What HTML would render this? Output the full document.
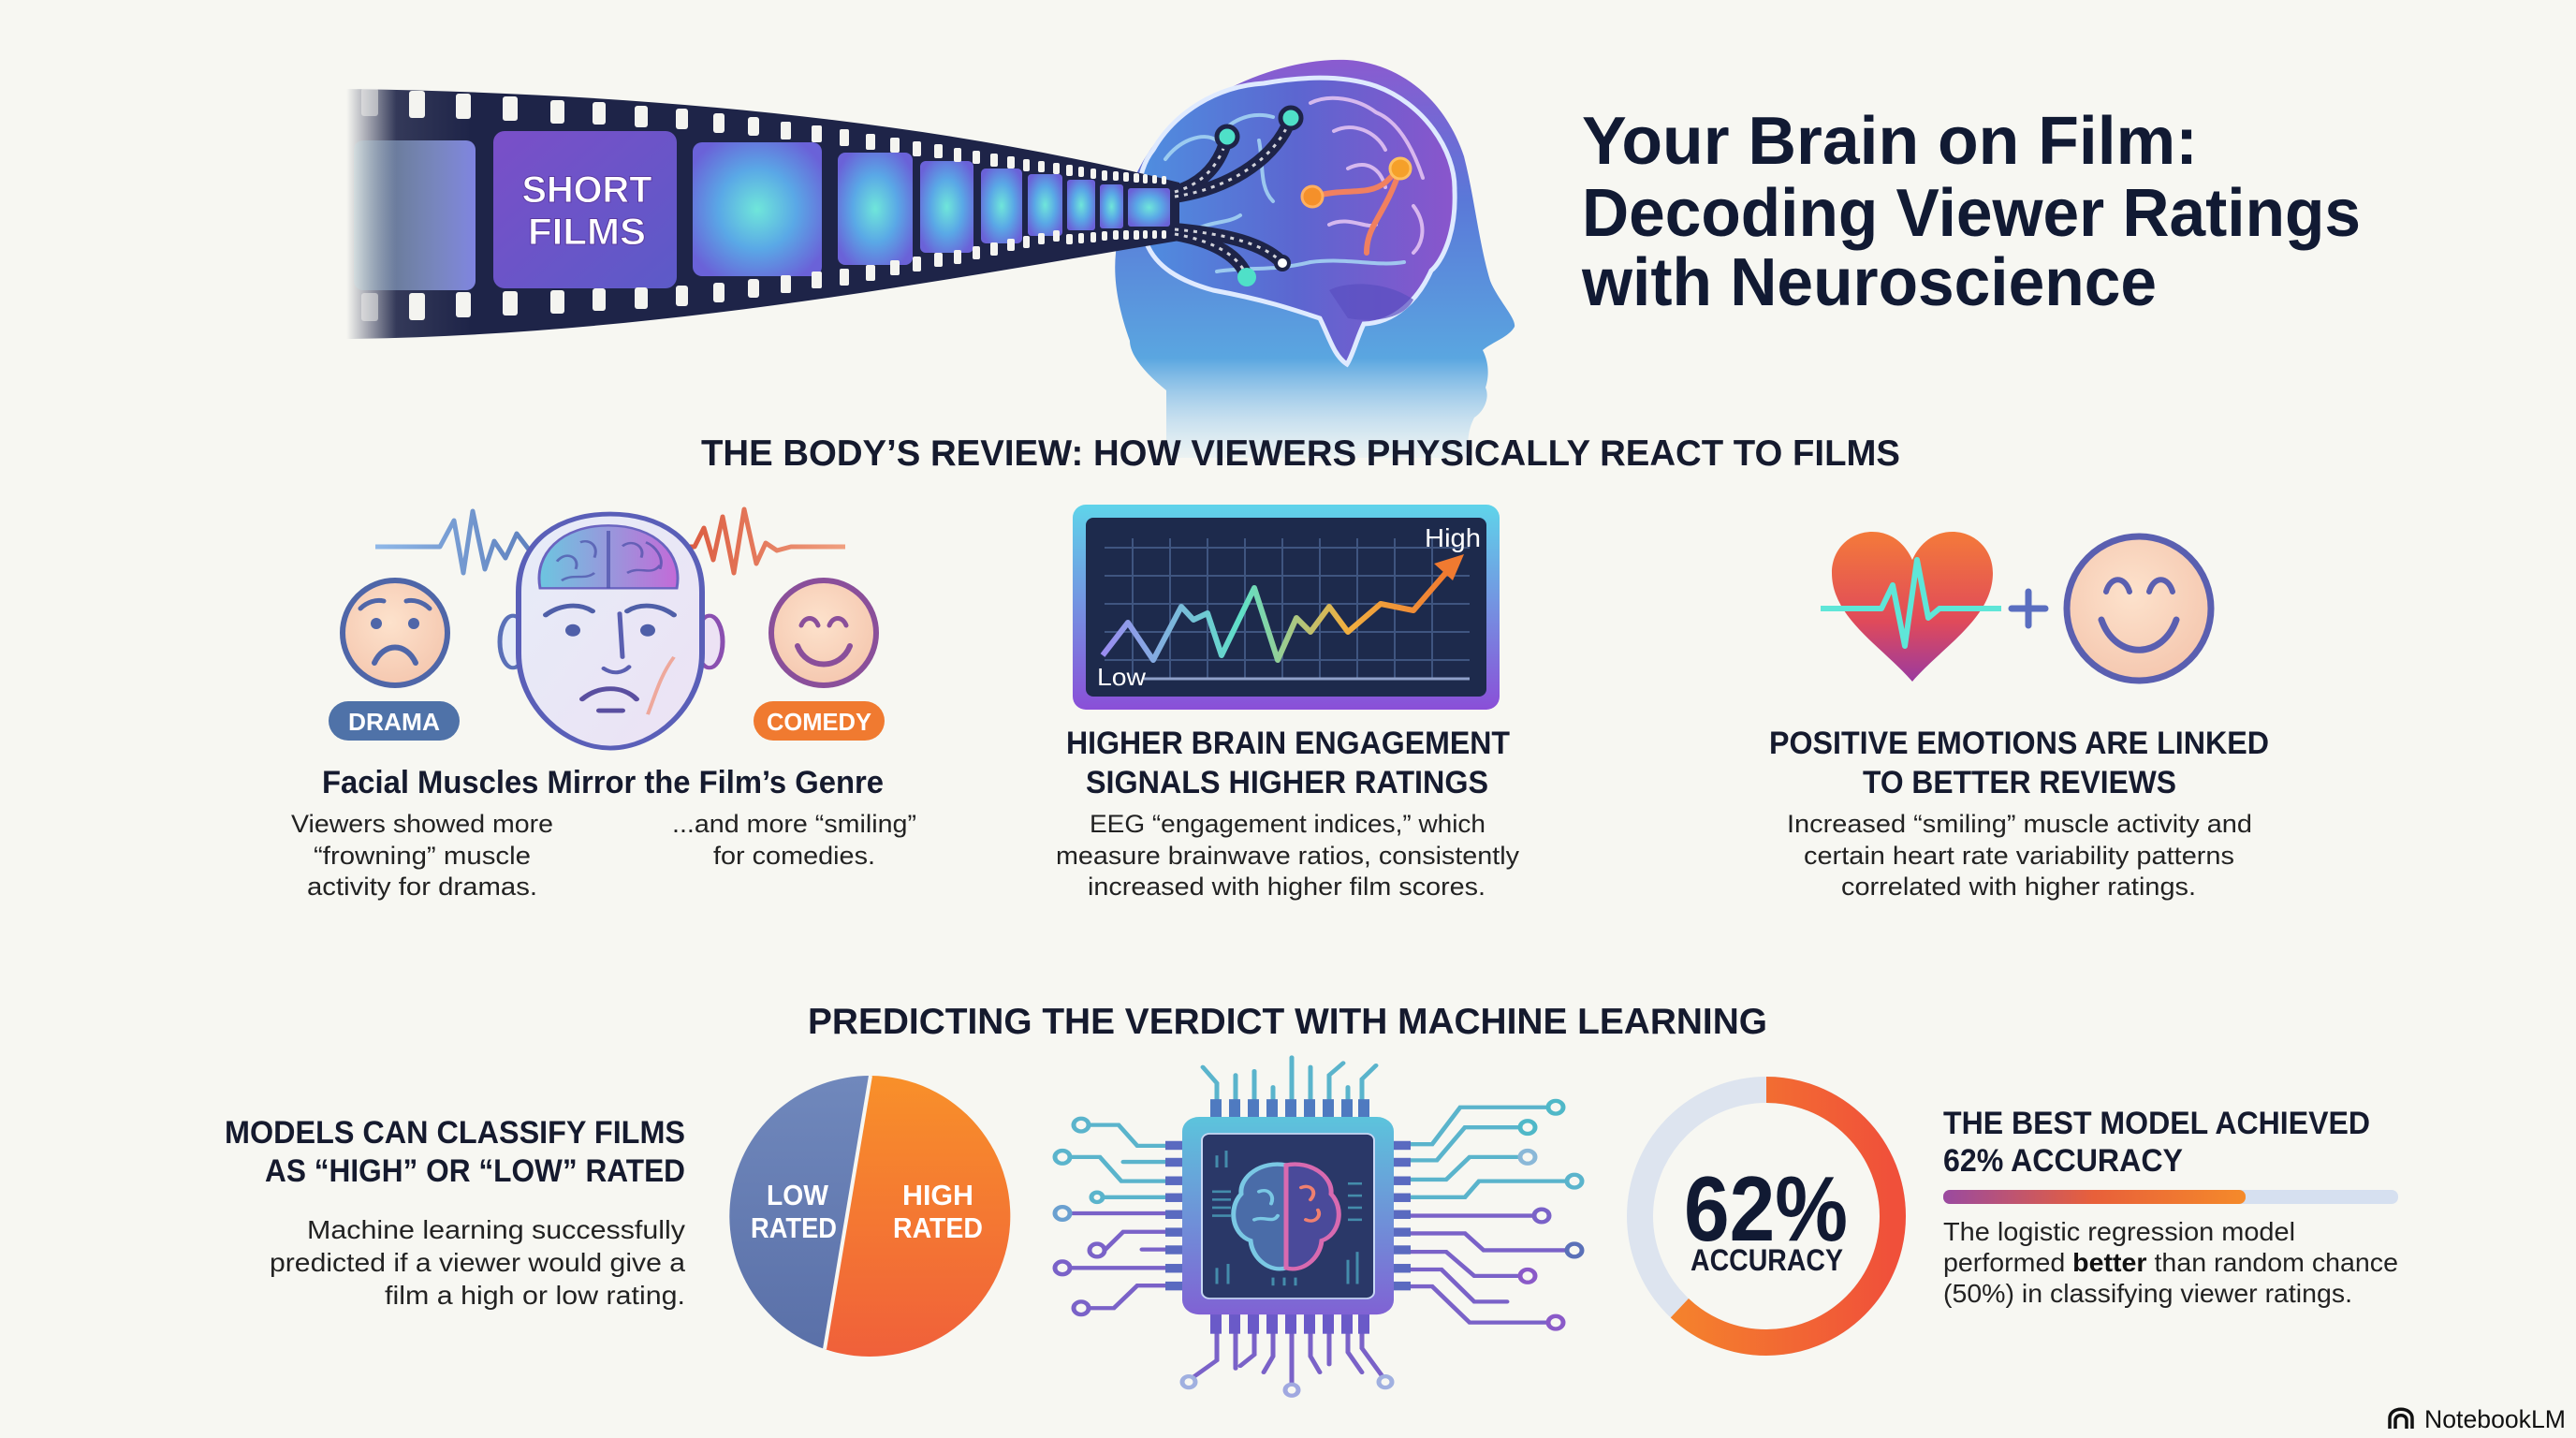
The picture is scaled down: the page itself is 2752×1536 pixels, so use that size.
<!DOCTYPE html>
<html><head><meta charset="utf-8">
<style>
html,body{margin:0;padding:0;background:#f7f7f2;}
svg{display:block;}
text{font-family:"Liberation Sans",sans-serif;}
</style></head>
<body>
<svg width="2752" height="1536" viewBox="0 0 2752 1536" xmlns="http://www.w3.org/2000/svg">
<defs>
  <linearGradient id="headG" x1="0" y1="0" x2="0" y2="1">
    <stop offset="0" stop-color="#8a5bd0"/>
    <stop offset="0.35" stop-color="#5a78d8"/>
    <stop offset="0.75" stop-color="#5aa6e0"/>
    <stop offset="1" stop-color="#cfe6f4" stop-opacity="0.3"/>
  </linearGradient>
  <linearGradient id="brainG" x1="0" y1="0" x2="1" y2="0">
    <stop offset="0" stop-color="#4f8fe0"/>
    <stop offset="0.5" stop-color="#5c66d0"/>
    <stop offset="1" stop-color="#8a55cc"/>
  </linearGradient>
  <linearGradient id="stripFade" x1="0" y1="0" x2="1" y2="0">
    <stop offset="0" stop-color="#1e2448" stop-opacity="0"/>
    <stop offset="0.06" stop-color="#1e2448" stop-opacity="0.9"/>
    <stop offset="0.15" stop-color="#1e2448"/>
    <stop offset="1" stop-color="#1e2448"/>
  </linearGradient>
  <radialGradient id="frameG" cx="0.5" cy="0.5" r="0.6">
    <stop offset="0" stop-color="#6fe6da"/>
    <stop offset="0.5" stop-color="#5aa8e6"/>
    <stop offset="1" stop-color="#6a62d8"/>
  </radialGradient>
  <linearGradient id="frame2" x1="0" y1="0" x2="1" y2="1">
    <stop offset="0" stop-color="#7a4fc8"/>
    <stop offset="1" stop-color="#5c5ac8"/>
  </linearGradient>
  <linearGradient id="frame1" x1="0" y1="0" x2="1" y2="0">
    <stop offset="0" stop-color="#bfe8ee" stop-opacity="0.2"/>
    <stop offset="1" stop-color="#7f84e0"/>
  </linearGradient>
  <linearGradient id="monG" x1="0" y1="0" x2="0" y2="1">
    <stop offset="0" stop-color="#5fd4ea"/>
    <stop offset="1" stop-color="#8a4fd8"/>
  </linearGradient>
  <linearGradient id="lineG" x1="0" y1="0" x2="1" y2="0">
    <stop offset="0" stop-color="#9a8cf0"/>
    <stop offset="0.4" stop-color="#5fe0c8"/>
    <stop offset="0.7" stop-color="#f0b040"/>
    <stop offset="1" stop-color="#f07a30"/>
  </linearGradient>
  <linearGradient id="heartG" x1="0" y1="0" x2="0" y2="1">
    <stop offset="0" stop-color="#f47a3a"/>
    <stop offset="0.6" stop-color="#e04a5a"/>
    <stop offset="1" stop-color="#9a3aa0"/>
  </linearGradient>
  <radialGradient id="faceG" cx="0.45" cy="0.4" r="0.6">
    <stop offset="0" stop-color="#fde2cc"/>
    <stop offset="1" stop-color="#f5c8b0"/>
  </radialGradient>
  <linearGradient id="headFace" x1="0" y1="0" x2="1" y2="1">
    <stop offset="0" stop-color="#e6ecf8"/>
    <stop offset="1" stop-color="#ece2f4"/>
  </linearGradient>
  <linearGradient id="miniBrain" x1="0" y1="0" x2="1" y2="0">
    <stop offset="0" stop-color="#6cc6e0"/>
    <stop offset="1" stop-color="#c36ad8"/>
  </linearGradient>
  <linearGradient id="waveL" x1="0" y1="0" x2="1" y2="0">
    <stop offset="0" stop-color="#8fb8e8"/>
    <stop offset="1" stop-color="#4f6fb0"/>
  </linearGradient>
  <linearGradient id="waveR" x1="0" y1="0" x2="1" y2="0">
    <stop offset="0" stop-color="#d9553a"/>
    <stop offset="1" stop-color="#f0a080"/>
  </linearGradient>
  <linearGradient id="chipG" x1="0" y1="0" x2="0" y2="1">
    <stop offset="0" stop-color="#5cc4dc"/>
    <stop offset="1" stop-color="#8062d4"/>
  </linearGradient>
  <linearGradient id="ringG" x1="0" y1="0" x2="0" y2="1">
    <stop offset="0" stop-color="#f58a2a"/>
    <stop offset="1" stop-color="#f0503a"/>
  </linearGradient>
  <linearGradient id="barG" x1="0" y1="0" x2="1" y2="0">
    <stop offset="0" stop-color="#9a4aa0"/>
    <stop offset="0.5" stop-color="#e8603a"/>
    <stop offset="1" stop-color="#f58a2a"/>
  </linearGradient>
  <linearGradient id="pieL" x1="0" y1="0" x2="0" y2="1">
    <stop offset="0" stop-color="#7088bc"/>
    <stop offset="1" stop-color="#5a70a8"/>
  </linearGradient>
  <linearGradient id="pieR" x1="0" y1="0" x2="0" y2="1">
    <stop offset="0" stop-color="#f8902a"/>
    <stop offset="1" stop-color="#f0603a"/>
  </linearGradient>
</defs>

<rect width="2752" height="1536" fill="#f7f7f2"/>

<!-- HEAD -->
<path d="M1246,489 L1246,417 C1225,400 1207,380 1207,364 C1195,330 1189,300 1192,270 C1198,200 1230,140 1279,114 C1330,80 1390,62 1439,64 C1500,68 1545,110 1564,167 C1575,210 1580,260 1592,300 C1600,320 1620,340 1618,349 C1612,360 1595,365 1584,374 C1592,390 1590,405 1587,414 C1592,425 1585,440 1575,446 C1568,460 1568,470 1568,489 Z" fill="url(#headG)"/>
<!-- BRAIN -->
<path d="M1225,260 C1212,230 1212,185 1232,160 C1255,120 1300,92 1350,89 C1400,80 1440,82 1470,92 C1520,110 1555,160 1554,203 C1556,250 1540,280 1529,289 C1515,320 1490,345 1457,346 C1450,360 1445,380 1439,389 C1425,380 1420,360 1410,340 C1380,330 1350,320 1296,310 C1260,300 1235,285 1225,260 Z" fill="url(#brainG)" stroke="#dfeaff" stroke-width="5"/>
<g fill="none" stroke="#a8d8f4" stroke-width="4" stroke-linecap="round" opacity="0.85">
  <path d="M1245,170 C1260,150 1285,140 1300,150 C1310,130 1335,118 1360,125"/>
  <path d="M1240,220 C1255,200 1275,195 1290,205"/>
  <path d="M1270,250 C1290,235 1310,240 1325,230"/>
  <path d="M1345,150 C1350,175 1345,200 1360,215"/>
  <path d="M1300,290 C1330,285 1360,290 1400,280 C1440,275 1470,285 1500,280"/>
</g>
<g fill="none" stroke="#e8c8f4" stroke-width="4" stroke-linecap="round" opacity="0.85">
  <path d="M1400,110 C1420,100 1450,105 1470,120 C1495,130 1510,160 1520,190"/>
  <path d="M1425,140 C1445,130 1470,140 1480,160"/>
  <path d="M1440,180 C1460,170 1475,180 1480,200"/>
  <path d="M1510,220 C1525,240 1520,260 1510,270"/>
  <path d="M1420,240 C1440,230 1460,245 1470,240"/>
</g>
<path d="M1420,310 C1440,300 1480,300 1510,320 C1500,340 1470,345 1440,340 Z" fill="#5a4fc0" opacity="0.7"/>
<path d="M1402,210 C1440,200 1460,210 1480,195 C1490,185 1496,180 1496,180 M1496,180 C1480,230 1460,240 1460,270" fill="none" stroke="#f08060" stroke-width="6" stroke-linecap="round"/>
<circle cx="1402" cy="210" r="11" fill="#f5902a" stroke="#ffb060" stroke-width="3"/>
<circle cx="1496" cy="180" r="11" fill="#f5a02a" stroke="#ffc060" stroke-width="3"/>

<!-- FILM STRIP -->
<path d="M370,95 C700,100 1000,130 1260,195 L1260,257 C1000,300 700,358 370,362 Z" fill="url(#stripFade)"/>
<g fill="none" stroke="#1e2448" stroke-width="14" stroke-linecap="round">
  <path d="M1255,205 C1290,195 1305,170 1311,146"/>
  <path d="M1255,210 C1320,200 1365,165 1379,126"/>
  <path d="M1255,245 C1310,250 1350,260 1370,281"/>
  <path d="M1255,250 C1300,258 1325,275 1332,296"/>
</g>
<g fill="none" stroke="#ffffff" stroke-width="3" stroke-dasharray="4 6" opacity="0.8">
  <path d="M1255,205 C1290,195 1305,170 1311,146"/>
  <path d="M1255,210 C1320,200 1365,165 1379,126"/>
  <path d="M1255,245 C1310,250 1350,260 1370,281"/>
  <path d="M1255,250 C1300,258 1325,275 1332,296"/>
</g>
<circle cx="1311" cy="146" r="11" fill="#4fe0c8" stroke="#1e2448" stroke-width="5"/>
<circle cx="1379" cy="126" r="11" fill="#4fe0c8" stroke="#1e2448" stroke-width="5"/>
<circle cx="1370" cy="281" r="7" fill="#fff" stroke="#1e2448" stroke-width="4"/>
<circle cx="1332" cy="296" r="10" fill="#4fe0c8"/>
<rect x="378" y="150" width="130" height="160" rx="10" fill="url(#frame1)"/>
<rect x="527" y="140" width="196" height="168" rx="12" fill="url(#frame2)"/>
<rect x="740" y="152" width="138" height="143" rx="10" fill="url(#frameG)"/>
<rect x="895" y="163" width="80" height="120" rx="8" fill="url(#frameG)"/>
<rect x="983" y="172" width="57" height="98" rx="6" fill="url(#frameG)"/>
<rect x="1048" y="180" width="44" height="80" rx="5" fill="url(#frameG)"/>
<rect x="1098" y="186" width="37" height="66" rx="4" fill="url(#frameG)"/>
<rect x="1140" y="192" width="30" height="54" rx="3" fill="url(#frameG)"/>
<rect x="1175" y="197" width="25" height="47" rx="3" fill="url(#frameG)"/>
<rect x="1205" y="201" width="45" height="41" rx="3" fill="url(#frameG)"/>
<text x="627" y="216" text-anchor="middle" font-size="40" font-weight="bold" fill="#fff" stroke="#5a3aa0" stroke-width="1" textLength="139" lengthAdjust="spacingAndGlyphs">SHORT</text>
<text x="627" y="261" text-anchor="middle" font-size="40" font-weight="bold" fill="#fff" stroke="#5a3aa0" stroke-width="1" textLength="126" lengthAdjust="spacingAndGlyphs">FILMS</text>
<g fill="#f4f4f0">
<rect x="386" y="94" width="18" height="30" rx="3" opacity="0.5"/>
<rect x="437" y="97" width="17" height="29" rx="3"/>
<rect x="487" y="100" width="16" height="27" rx="3"/>
<rect x="537" y="103" width="16" height="26" rx="3"/>
<rect x="588" y="107" width="15" height="25" rx="3"/>
<rect x="633" y="109" width="14" height="24" rx="3"/>
<rect x="678" y="113" width="14" height="23" rx="3"/>
<rect x="722" y="116" width="13" height="22" rx="3"/>
<rect x="762" y="121" width="12" height="21" rx="3"/>
<rect x="799" y="125" width="12" height="20" rx="3"/>
<rect x="834" y="130" width="11" height="19" rx="2"/>
<rect x="867" y="134" width="11" height="18" rx="2"/>
<rect x="897" y="138" width="10" height="18" rx="2"/>
<rect x="925" y="143" width="10" height="17" rx="2"/>
<rect x="951" y="147" width="10" height="16" rx="2"/>
<rect x="975" y="151" width="9" height="16" rx="2"/>
<rect x="998" y="154" width="9" height="15" rx="2"/>
<rect x="1019" y="158" width="8" height="15" rx="2"/>
<rect x="1039" y="161" width="8" height="14" rx="2"/>
<rect x="1058" y="164" width="8" height="14" rx="2"/>
<rect x="1076" y="167" width="8" height="13" rx="2"/>
<rect x="1093" y="170" width="7" height="13" rx="2"/>
<rect x="1109" y="172" width="7" height="12" rx="2"/>
<rect x="1125" y="174" width="7" height="12" rx="2"/>
<rect x="1139" y="176" width="7" height="12" rx="2"/>
<rect x="1152" y="178" width="6" height="11" rx="2"/>
<rect x="1165" y="180" width="6" height="11" rx="2"/>
<rect x="1177" y="182" width="6" height="11" rx="2"/>
<rect x="1189" y="183" width="6" height="10" rx="2"/>
<rect x="1200" y="184" width="6" height="10" rx="2"/>
<rect x="1211" y="185" width="6" height="10" rx="2"/>
<rect x="1221" y="186" width="5" height="10" rx="2"/>
<rect x="1231" y="187" width="5" height="9" rx="2"/>
<rect x="1241" y="188" width="5" height="9" rx="2"/>
<rect x="386" y="313" width="18" height="30" rx="3" opacity="0.5"/>
<rect x="437" y="313" width="17" height="29" rx="3"/>
<rect x="487" y="312" width="16" height="27" rx="3"/>
<rect x="537" y="311" width="16" height="26" rx="3"/>
<rect x="588" y="310" width="15" height="25" rx="3"/>
<rect x="633" y="308" width="14" height="24" rx="3"/>
<rect x="678" y="307" width="14" height="23" rx="3"/>
<rect x="722" y="305" width="13" height="22" rx="3"/>
<rect x="762" y="302" width="12" height="21" rx="3"/>
<rect x="799" y="298" width="12" height="20" rx="3"/>
<rect x="834" y="294" width="11" height="19" rx="2"/>
<rect x="867" y="290" width="11" height="18" rx="2"/>
<rect x="897" y="287" width="10" height="18" rx="2"/>
<rect x="925" y="283" width="10" height="17" rx="2"/>
<rect x="951" y="278" width="10" height="16" rx="2"/>
<rect x="975" y="274" width="9" height="16" rx="2"/>
<rect x="998" y="270" width="9" height="15" rx="2"/>
<rect x="1019" y="267" width="8" height="15" rx="2"/>
<rect x="1039" y="263" width="8" height="14" rx="2"/>
<rect x="1058" y="259" width="8" height="14" rx="2"/>
<rect x="1076" y="255" width="8" height="13" rx="2"/>
<rect x="1093" y="252" width="7" height="13" rx="2"/>
<rect x="1109" y="249" width="7" height="12" rx="2"/>
<rect x="1125" y="246" width="7" height="12" rx="2"/>
<rect x="1139" y="250" width="7" height="11" rx="2"/>
<rect x="1152" y="249" width="6" height="11" rx="2"/>
<rect x="1165" y="248" width="6" height="11" rx="2"/>
<rect x="1177" y="247" width="6" height="10" rx="2"/>
<rect x="1189" y="246" width="6" height="10" rx="2"/>
<rect x="1200" y="246" width="6" height="10" rx="2"/>
<rect x="1211" y="246" width="6" height="10" rx="2"/>
<rect x="1221" y="246" width="5" height="9" rx="2"/>
<rect x="1231" y="246" width="5" height="9" rx="2"/>
<rect x="1241" y="246" width="5" height="9" rx="2"/>
</g>

<!-- TITLE -->
<g fill="#111a33" font-weight="bold" font-size="72">
<text x="1690" y="175" textLength="658" lengthAdjust="spacingAndGlyphs">Your Brain on Film:</text>
<text x="1690" y="252" textLength="832" lengthAdjust="spacingAndGlyphs">Decoding Viewer Ratings</text>
<text x="1690" y="326" textLength="614" lengthAdjust="spacingAndGlyphs">with Neuroscience</text>
</g>

<!-- SECTION 1 HEADER -->
<text x="749" y="497" font-size="39" font-weight="bold" fill="#151a2e" textLength="1281" lengthAdjust="spacingAndGlyphs">THE BODY’S REVIEW: HOW VIEWERS PHYSICALLY REACT TO FILMS</text>

<!-- LEFT ICON: waveforms -->
<path d="M401,584 L470,584 L485,556 L495,612 L505,546 L518,608 L528,578 L540,596 L552,570 L565,587 L580,584 L620,584" fill="none" stroke="url(#waveL)" stroke-width="5" stroke-linejoin="round"/>
<path d="M720,584 L742,584 L752,564 L762,598 L772,552 L784,612 L795,544 L808,602 L818,580 L830,588 L845,584 L903,584" fill="none" stroke="url(#waveR)" stroke-width="5" stroke-linejoin="round"/>
<!-- sad face -->
<g transform="translate(0,-22)">
<circle cx="422" cy="698" r="56" fill="url(#faceG)" stroke="#4f66a8" stroke-width="6"/>
<circle cx="402" cy="688" r="6" fill="#4f66a8"/><circle cx="442" cy="688" r="6" fill="#4f66a8"/>
<path d="M385,672 C392,665 402,662 410,664 M434,664 C442,662 452,665 459,672" fill="none" stroke="#4f66a8" stroke-width="5" stroke-linecap="round"/>
<path d="M400,730 C410,708 434,708 444,730" fill="none" stroke="#4f66a8" stroke-width="6" stroke-linecap="round"/>
<circle cx="880" cy="698" r="56" fill="url(#faceG)" stroke="#8a4f9a" stroke-width="6"/>
<path d="M856,690 C860,680 870,680 874,690 M886,690 C890,680 900,680 904,690" fill="none" stroke="#8a4f9a" stroke-width="5" stroke-linecap="round"/>
<path d="M852,712 C862,738 898,738 908,712" fill="none" stroke="#8a4f9a" stroke-width="6" stroke-linecap="round"/>
</g>
<rect x="351" y="749" width="140" height="42" rx="21" fill="#4f72a8"/>
<text x="421" y="780" text-anchor="middle" font-size="26" font-weight="bold" fill="#fff" textLength="98" lengthAdjust="spacingAndGlyphs">DRAMA</text>
<rect x="805" y="749" width="140" height="42" rx="21" fill="#f07a30"/>
<text x="875" y="780" text-anchor="middle" font-size="26" font-weight="bold" fill="#fff" textLength="112" lengthAdjust="spacingAndGlyphs">COMEDY</text>
<!-- center head (vertically compressed) -->
<g transform="matrix(1,0,0,0.817,0,109.5)">
<ellipse cx="548" cy="705" rx="14" ry="34" fill="#e6ecf8" stroke="#5a70b8" stroke-width="5"/>
<ellipse cx="758" cy="705" rx="14" ry="34" fill="#ece2f4" stroke="#8a4fb0" stroke-width="5"/>
<path d="M554,640 C554,570 600,538 652,538 C704,538 750,570 750,640 L750,720 C750,790 700,844 652,844 C604,844 554,790 554,720 Z" fill="url(#headFace)" stroke="#5a5fb8" stroke-width="6"/>
<path d="M577,635 C570,590 600,553 650,553 C700,553 730,590 723,635 Z" fill="url(#miniBrain)" stroke="#6a64c0" stroke-width="3"/>
<g fill="none" stroke="#4a4fa8" stroke-width="3" opacity="0.7">
<path d="M595,600 C605,585 620,595 615,610 M620,575 C630,570 640,580 635,595 M600,625 C612,615 625,625 635,615 M665,580 C675,570 690,580 685,595 M670,615 C685,605 695,620 705,605 M690,575 C700,580 710,595 705,610"/>
<path d="M650,560 L650,635" stroke-width="4"/>
</g>
<path d="M583,670 C600,655 620,655 633,665 M670,665 C683,655 703,655 720,670" fill="none" stroke="#4f5fa8" stroke-width="6" stroke-linecap="round"/>
<circle cx="612" cy="690" r="8" fill="#4f5fa8"/><circle cx="692" cy="690" r="8" fill="#4f5fa8"/>
<path d="M662,668 L665,725 M645,740 C655,748 665,746 672,738" fill="none" stroke="#5a5fb0" stroke-width="5" stroke-linecap="round"/>
<path d="M622,780 C640,762 665,762 680,780 M640,795 L665,795" fill="none" stroke="#5a4fa0" stroke-width="6" stroke-linecap="round"/>
<path d="M720,725 C705,750 700,775 692,800" fill="none" stroke="#f08060" stroke-width="4" opacity="0.6"/>
</g>

<text x="344" y="847" font-size="34" font-weight="bold" fill="#151a2e" textLength="600" lengthAdjust="spacingAndGlyphs">Facial Muscles Mirror the Film’s Genre</text>
<g font-size="27" fill="#222">
<text x="311" y="889" textLength="280" lengthAdjust="spacingAndGlyphs">Viewers showed more</text>
<text x="335" y="923" textLength="232" lengthAdjust="spacingAndGlyphs">“frowning” muscle</text>
<text x="328" y="956" textLength="246" lengthAdjust="spacingAndGlyphs">activity for dramas.</text>
<text x="718" y="889" textLength="261" lengthAdjust="spacingAndGlyphs">...and more “smiling”</text>
<text x="762" y="923" textLength="173" lengthAdjust="spacingAndGlyphs">for comedies.</text>
</g>

<!-- MONITOR -->
<rect x="1146" y="539" width="456" height="219" rx="14" fill="url(#monG)"/>
<rect x="1160" y="553" width="428" height="191" rx="8" fill="#1d2a4c"/>
<g stroke="#3f5580" stroke-width="2">
<line x1="1180" y1="585" x2="1570" y2="585"/><line x1="1180" y1="615" x2="1570" y2="615"/>
<line x1="1180" y1="645" x2="1570" y2="645"/><line x1="1180" y1="675" x2="1570" y2="675"/>
<line x1="1180" y1="705" x2="1570" y2="705"/>
<line x1="1210" y1="575" x2="1210" y2="725"/><line x1="1250" y1="575" x2="1250" y2="725"/>
<line x1="1290" y1="575" x2="1290" y2="725"/><line x1="1330" y1="575" x2="1330" y2="725"/>
<line x1="1370" y1="575" x2="1370" y2="725"/><line x1="1410" y1="575" x2="1410" y2="725"/>
<line x1="1450" y1="575" x2="1450" y2="725"/><line x1="1490" y1="575" x2="1490" y2="725"/>
<line x1="1530" y1="575" x2="1530" y2="725"/>
</g>
<line x1="1222" y1="725" x2="1570" y2="725" stroke="#8fa0c8" stroke-width="3"/>
<polyline points="1178,700 1205,665 1232,705 1262,648 1275,662 1290,655 1305,700 1340,628 1365,705 1385,660 1400,675 1420,648 1440,675 1475,645 1510,652 1548,608" fill="none" stroke="url(#lineG)" stroke-width="6" stroke-linejoin="round"/>
<polygon points="1564,592 1532,602 1552,620" fill="#f07a30"/>
<text x="1522" y="584" font-size="28" fill="#fff" textLength="60" lengthAdjust="spacingAndGlyphs">High</text>
<text x="1172" y="732" font-size="26" fill="#fff" textLength="52" lengthAdjust="spacingAndGlyphs">Low</text>

<g font-size="34" font-weight="bold" fill="#151a2e">
<text x="1139" y="805" textLength="474" lengthAdjust="spacingAndGlyphs">HIGHER BRAIN ENGAGEMENT</text>
<text x="1160" y="847" textLength="430" lengthAdjust="spacingAndGlyphs">SIGNALS HIGHER RATINGS</text>
</g>
<g font-size="27" fill="#222">
<text x="1164" y="889" textLength="423" lengthAdjust="spacingAndGlyphs">EEG “engagement indices,” which</text>
<text x="1128" y="923" textLength="495" lengthAdjust="spacingAndGlyphs">measure brainwave ratios, consistently</text>
<text x="1162" y="956" textLength="425" lengthAdjust="spacingAndGlyphs">increased with higher film scores.</text>
</g>

<!-- HEART + SMILE -->
<path d="M2043,728 C2010,690 1957,660 1957,612 C1957,585 1978,568 2000,568 C2020,568 2035,580 2043,598 C2051,580 2066,568 2086,568 C2108,568 2129,585 2129,612 C2129,660 2076,690 2043,728 Z" fill="url(#heartG)"/>
<polyline points="1945,650 2010,650 2022,625 2035,690 2048,598 2060,660 2072,650 2138,650" fill="none" stroke="#5fe6d8" stroke-width="6" stroke-linejoin="round"/>
<path d="M2167,632 L2167,668 M2149,650 L2185,650" stroke="#5a6ec0" stroke-width="7" stroke-linecap="round"/>
<circle cx="2285" cy="650" r="77" fill="url(#faceG)" stroke="#5a5fb0" stroke-width="7"/>
<path d="M2250,632 C2255,615 2270,615 2275,632 M2296,632 C2301,615 2316,615 2321,632" fill="none" stroke="#5a5fb0" stroke-width="6" stroke-linecap="round"/>
<path d="M2245,662 C2260,705 2310,705 2325,662" fill="none" stroke="#5a5fb0" stroke-width="7" stroke-linecap="round"/>

<g font-size="34" font-weight="bold" fill="#151a2e">
<text x="1890" y="805" textLength="534" lengthAdjust="spacingAndGlyphs">POSITIVE EMOTIONS ARE LINKED</text>
<text x="1990" y="847" textLength="335" lengthAdjust="spacingAndGlyphs">TO BETTER REVIEWS</text>
</g>
<g font-size="27" fill="#222">
<text x="1909" y="889" textLength="497" lengthAdjust="spacingAndGlyphs">Increased “smiling” muscle activity and</text>
<text x="1927" y="923" textLength="460" lengthAdjust="spacingAndGlyphs">certain heart rate variability patterns</text>
<text x="1967" y="956" textLength="379" lengthAdjust="spacingAndGlyphs">correlated with higher ratings.</text>
</g>

<!-- SECTION 2 HEADER -->
<text x="863" y="1104" font-size="39" font-weight="bold" fill="#151a2e" textLength="1025" lengthAdjust="spacingAndGlyphs">PREDICTING THE VERDICT WITH MACHINE LEARNING</text>

<g font-size="34" font-weight="bold" fill="#151a2e" text-anchor="end">
<text x="732" y="1221" textLength="492" lengthAdjust="spacingAndGlyphs">MODELS CAN CLASSIFY FILMS</text>
<text x="732" y="1262" textLength="449" lengthAdjust="spacingAndGlyphs">AS “HIGH” OR “LOW” RATED</text>
</g>
<g font-size="28" fill="#222" text-anchor="end">
<text x="732" y="1323" textLength="404" lengthAdjust="spacingAndGlyphs">Machine learning successfully</text>
<text x="732" y="1358" textLength="444" lengthAdjust="spacingAndGlyphs">predicted if a viewer would give a</text>
<text x="732" y="1393" textLength="321" lengthAdjust="spacingAndGlyphs">film a high or low rating.</text>
</g>

<!-- PIE -->
<path d="M930,1149 A150,150 0 0 0 881,1441 Z" fill="url(#pieL)"/>
<path d="M930,1149 A150,150 0 1 1 881,1441 Z" fill="url(#pieR)"/>
<line x1="930" y1="1149" x2="881" y2="1441" stroke="#f7f7f2" stroke-width="4"/>
<g font-size="31" font-weight="bold" fill="#fff" text-anchor="middle">
<text x="852" y="1287" textLength="66" lengthAdjust="spacingAndGlyphs">LOW</text>
<text x="848" y="1322" textLength="92" lengthAdjust="spacingAndGlyphs">RATED</text>
<text x="1002" y="1287" textLength="76" lengthAdjust="spacingAndGlyphs">HIGH</text>
<text x="1002" y="1322" textLength="96" lengthAdjust="spacingAndGlyphs">RATED</text>
</g>

<!-- CHIP (vertically compressed) -->
<g transform="matrix(1,0,0,0.858,0,161.7)">
<g fill="none" stroke-width="5" stroke-linecap="round">
<g stroke="#5ab4cc">
<path d="M1300,1190 L1300,1160 L1285,1140"/><path d="M1320,1190 L1320,1150"/><path d="M1340,1190 L1340,1145"/>
<path d="M1360,1190 L1360,1165"/><path d="M1380,1190 L1380,1128"/><path d="M1400,1190 L1400,1140"/>
<path d="M1420,1190 L1420,1150 L1435,1135"/><path d="M1440,1190 L1440,1165"/><path d="M1455,1190 L1455,1155 L1470,1138"/>
<path d="M1250,1238 L1215,1238 L1195,1212 L1160,1212"/>
<path d="M1250,1258 L1200,1258"/>
<path d="M1250,1282 L1198,1282 L1175,1252 L1140,1252"/>
<path d="M1250,1302 L1175,1302"/>
<path d="M1495,1236 L1530,1236 L1560,1190 L1655,1190"/>
<path d="M1495,1256 L1535,1256 L1565,1215 L1625,1215"/>
<path d="M1495,1280 L1545,1280 L1570,1252 L1625,1252"/>
<path d="M1495,1302 L1565,1302 L1580,1282 L1675,1282"/>
</g>
<g stroke="#7a62c8">
<path d="M1250,1322 L1140,1322"/>
<path d="M1250,1345 L1200,1345 L1180,1368 L1172,1368"/>
<path d="M1250,1367 L1220,1367"/>
<path d="M1250,1390 L1140,1390"/>
<path d="M1250,1412 L1215,1412 L1190,1440 L1160,1440"/>
<path d="M1495,1325 L1640,1325"/>
<path d="M1495,1347 L1565,1347 L1585,1368 L1675,1368"/>
<path d="M1495,1370 L1545,1370 L1575,1400 L1625,1400"/>
<path d="M1495,1392 L1540,1392 L1575,1432 L1610,1432"/>
<path d="M1495,1413 L1530,1413 L1570,1458 L1655,1458"/>
<path d="M1300,1472 L1300,1505 L1270,1530"/><path d="M1320,1472 L1320,1515"/><path d="M1340,1472 L1340,1498 L1325,1512"/>
<path d="M1360,1472 L1360,1500 L1350,1520"/><path d="M1380,1472 L1380,1540"/><path d="M1400,1472 L1400,1500 L1410,1520"/>
<path d="M1420,1472 L1420,1510"/><path d="M1440,1472 L1440,1495 L1455,1520"/><path d="M1455,1472 L1455,1490 L1480,1530"/>
</g>
</g>
<g fill="#f7f7f2" stroke-width="5">
<circle cx="1155" cy="1212" r="8" stroke="#5ab4cc"/><circle cx="1135" cy="1252" r="8" stroke="#5ab4cc"/>
<circle cx="1172" cy="1302" r="6" stroke="#5ab4cc"/><circle cx="1135" cy="1322" r="8" stroke="#6aa0d0"/>
<circle cx="1172" cy="1368" r="8" stroke="#7a62c8"/><circle cx="1135" cy="1390" r="8" stroke="#7a62c8"/>
<circle cx="1155" cy="1440" r="8" stroke="#7a62c8"/>
<circle cx="1662" cy="1190" r="8" stroke="#4fb8c8"/><circle cx="1632" cy="1215" r="8" stroke="#4fb8c8"/>
<circle cx="1632" cy="1252" r="8" stroke="#8ab8d8"/><circle cx="1682" cy="1282" r="8" stroke="#5ab4cc"/>
<circle cx="1647" cy="1325" r="8" stroke="#7a62c8"/><circle cx="1682" cy="1368" r="8" stroke="#5a70b8"/>
<circle cx="1632" cy="1400" r="8" stroke="#8a5ac8"/><circle cx="1662" cy="1458" r="8" stroke="#8a5ac8"/>
<circle cx="1270" cy="1532" r="7" stroke="#a0b0e0"/><circle cx="1380" cy="1542" r="7" stroke="#a0a8e0"/><circle cx="1480" cy="1532" r="7" stroke="#a0b0e0"/>
</g>
<g fill="#4f7ac0">
<rect x="1293" y="1180" width="12" height="24"/><rect x="1313" y="1180" width="12" height="24"/><rect x="1333" y="1180" width="12" height="24"/>
<rect x="1353" y="1180" width="12" height="24"/><rect x="1373" y="1180" width="12" height="24"/><rect x="1393" y="1180" width="12" height="24"/>
<rect x="1413" y="1180" width="12" height="24"/><rect x="1433" y="1180" width="12" height="24"/><rect x="1451" y="1180" width="12" height="24"/>
</g>
<g fill="#6a5ac8">
<rect x="1293" y="1446" width="12" height="26"/><rect x="1313" y="1446" width="12" height="26"/><rect x="1333" y="1446" width="12" height="26"/>
<rect x="1353" y="1446" width="12" height="26"/><rect x="1373" y="1446" width="12" height="26"/><rect x="1393" y="1446" width="12" height="26"/>
<rect x="1413" y="1446" width="12" height="26"/><rect x="1433" y="1446" width="12" height="26"/><rect x="1451" y="1446" width="12" height="26"/>
</g>
<g fill="#5a6ac0">
<rect x="1245" y="1232" width="22" height="11"/><rect x="1245" y="1253" width="22" height="11"/><rect x="1245" y="1276" width="22" height="11"/>
<rect x="1245" y="1297" width="22" height="11"/><rect x="1245" y="1318" width="22" height="11"/><rect x="1245" y="1340" width="22" height="11"/>
<rect x="1245" y="1362" width="22" height="11"/><rect x="1245" y="1385" width="22" height="11"/><rect x="1245" y="1407" width="22" height="11"/>
<rect x="1485" y="1232" width="22" height="11"/><rect x="1485" y="1253" width="22" height="11"/><rect x="1485" y="1276" width="22" height="11"/>
<rect x="1485" y="1297" width="22" height="11"/><rect x="1485" y="1318" width="22" height="11"/><rect x="1485" y="1340" width="22" height="11"/>
<rect x="1485" y="1362" width="22" height="11"/><rect x="1485" y="1385" width="22" height="11"/><rect x="1485" y="1407" width="22" height="11"/>
</g>
<rect x="1263" y="1202" width="226" height="246" rx="18" fill="url(#chipG)"/>
<rect x="1284" y="1223" width="184" height="205" rx="8" fill="#2a3868" stroke="#c8d8f4" stroke-width="2"/>
<g stroke="#4fb0c8" stroke-width="3" opacity="0.7">
<line x1="1300" y1="1250" x2="1300" y2="1265"/><line x1="1310" y1="1244" x2="1310" y2="1265"/>
<line x1="1295" y1="1295" x2="1315" y2="1295"/><line x1="1295" y1="1305" x2="1315" y2="1305"/><line x1="1295" y1="1315" x2="1315" y2="1315"/><line x1="1295" y1="1325" x2="1315" y2="1325"/>
<line x1="1440" y1="1285" x2="1455" y2="1285"/><line x1="1440" y1="1300" x2="1455" y2="1300"/><line x1="1440" y1="1315" x2="1455" y2="1315"/><line x1="1440" y1="1330" x2="1455" y2="1330"/>
<line x1="1300" y1="1390" x2="1300" y2="1410"/><line x1="1312" y1="1385" x2="1312" y2="1410"/>
<line x1="1360" y1="1402" x2="1360" y2="1412"/><line x1="1372" y1="1402" x2="1372" y2="1412"/><line x1="1384" y1="1402" x2="1384" y2="1412"/>
<line x1="1440" y1="1380" x2="1440" y2="1410"/><line x1="1450" y1="1370" x2="1450" y2="1410"/>
</g>
<path d="M1374,1262 C1348,1256 1324,1276 1326,1298 C1312,1315 1316,1348 1336,1356 C1338,1380 1358,1396 1374,1390 Z" fill="#4a6ca8" stroke="#7ac8e4" stroke-width="5"/>
<path d="M1374,1262 C1400,1256 1424,1276 1422,1298 C1436,1315 1432,1348 1412,1356 C1410,1380 1390,1396 1374,1390 Z" fill="#4a4a9a" stroke="#d86ab0" stroke-width="5"/>
<g fill="none" stroke-width="4" stroke-linecap="round">
<path d="M1345,1295 C1355,1290 1362,1300 1358,1310 M1340,1330 C1350,1325 1360,1335 1365,1325" stroke="#7ac8e4"/>
<path d="M1390,1290 C1400,1285 1408,1295 1400,1305 M1395,1330 C1405,1335 1412,1325 1408,1318" stroke="#f08070"/>
</g>
</g>

<!-- RING -->
<circle cx="1887" cy="1299" r="135" fill="none" stroke="#dde4ef" stroke-width="28"/>
<circle cx="1887" cy="1299" r="135" fill="none" stroke="url(#ringG)" stroke-width="28" stroke-dasharray="526 1000" transform="rotate(-90 1887 1299)"/>
<text x="1799" y="1325" font-size="98" font-weight="bold" fill="#111a33" textLength="175" lengthAdjust="spacingAndGlyphs">62%</text>
<text x="1806" y="1357" font-size="32" font-weight="bold" fill="#151a2e" textLength="163" lengthAdjust="spacingAndGlyphs">ACCURACY</text>

<g font-size="34" font-weight="bold" fill="#151a2e">
<text x="2076" y="1211" textLength="456" lengthAdjust="spacingAndGlyphs">THE BEST MODEL ACHIEVED</text>
<text x="2076" y="1251" textLength="256" lengthAdjust="spacingAndGlyphs">62% ACCURACY</text>
</g>
<rect x="2076" y="1271" width="486" height="15" rx="7" fill="#d6e0f0"/>
<rect x="2076" y="1271" width="323" height="15" rx="7" fill="url(#barG)"/>
<g font-size="28" fill="#222">
<text x="2076" y="1325" textLength="376" lengthAdjust="spacingAndGlyphs">The logistic regression model</text>
<text x="2076" y="1358" textLength="486" lengthAdjust="spacingAndGlyphs">performed <tspan font-weight="bold" fill="#111">better</tspan> than random chance</text>
<text x="2076" y="1391" textLength="437" lengthAdjust="spacingAndGlyphs">(50%) in classifying viewer ratings.</text>
</g>

<g fill="none" stroke="#111" stroke-width="3.5">
<path d="M2553,1526 L2553,1515 C2553,1502 2577,1502 2577,1515 L2577,1526"/>
<path d="M2559,1526 L2559,1517 C2559,1510 2571,1510 2571,1517 L2571,1526"/>
</g>
<text x="2590" y="1525" font-size="27" fill="#111" textLength="151" lengthAdjust="spacingAndGlyphs">NotebookLM</text>
</svg>
</body></html>
